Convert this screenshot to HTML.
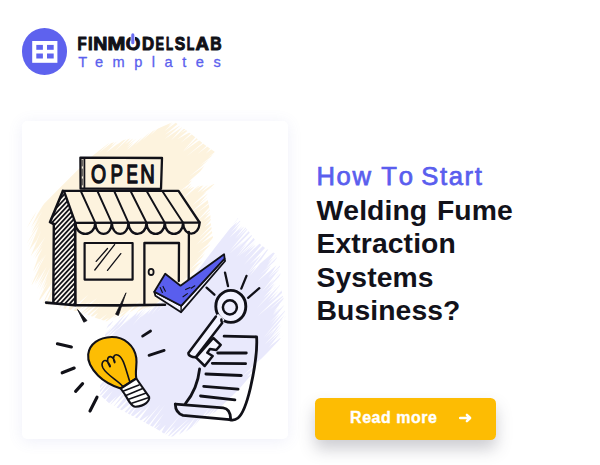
<!DOCTYPE html>
<html lang="en">
<head>
<meta charset="utf-8">
<title>How To Start Welding Fume Extraction Systems Business?</title>
<style>
html,body{margin:0;padding:0;}
body{width:600px;height:465px;background:#fff;position:relative;overflow:hidden;font-family:"Liberation Sans",sans-serif;}
.abs{position:absolute;}
#logo-circle{left:22.1px;top:28.3px;width:45.4px;height:46.4px;border-radius:50%;background:#5e62ee;}
#sub{left:78.2px;top:52.8px;font-size:14.6px;line-height:18px;color:#5b5fee;white-space:nowrap;letter-spacing:9.5px;-webkit-text-stroke:0.3px #5b5fee;}
#card{left:21.9px;top:120.8px;width:266.2px;height:318.5px;background:#fff;border-radius:5px;box-shadow:0 2px 15px rgba(100,105,200,0.11);}
#h1{left:316.5px;top:160.9px;font-size:25.6px;line-height:30px;color:#5a5eee;white-space:nowrap;letter-spacing:1.64px;-webkit-text-stroke:0.75px #5a5eee;font-kerning:none;}
#h2{left:316.5px;top:194.0px;font-size:28.3px;line-height:33.27px;font-weight:bold;color:#12121a;white-space:nowrap;letter-spacing:0.1px;word-spacing:1.7px;font-kerning:none;}
#btn{left:315.1px;top:397.9px;width:181.1px;height:41.9px;border-radius:5.5px;background:#fdbc03;box-shadow:0 9px 16px rgba(60,60,80,0.26);}
#btn span{position:absolute;left:35px;top:9.9px;font-size:16px;line-height:20px;font-weight:bold;color:#fff;white-space:nowrap;letter-spacing:0.5px;-webkit-text-stroke:0.35px #fff;}
</style>
</head>
<body>
<div class="abs" id="logo-circle"></div>
<svg class="abs" style="left:0;top:0" width="600" height="465" viewBox="0 0 600 465">
  <rect x="32.2" y="41" width="25.2" height="21.8" fill="#fff"/>
  <rect x="36.3" y="44.9" width="6.6" height="4.9" fill="#6064ef"/>
  <rect x="47" y="44.9" width="6.7" height="4.9" fill="#6064ef"/>
  <rect x="36.3" y="53.5" width="6.6" height="5" fill="#6064ef"/>
  <rect x="47" y="53.5" width="6.7" height="5" fill="#6064ef"/>
</svg>
<svg class="abs" style="left:0;top:0" width="600" height="465" viewBox="0 0 600 465">
  <text id="brand" aria-label="FINMODELSLAB" y="50.3" font-family="'Liberation Sans',sans-serif" font-weight="bold" font-size="18.2" fill="#111118" stroke="#111118" stroke-width="1.0" stroke-linejoin="round"><tspan x="77.50" textLength="9.15" lengthAdjust="spacingAndGlyphs">F</tspan><tspan x="87.99" textLength="4.63" lengthAdjust="spacingAndGlyphs">I</tspan><tspan x="93.19" textLength="14.13" lengthAdjust="spacingAndGlyphs">N</tspan><tspan x="107.56" textLength="17.87" lengthAdjust="spacingAndGlyphs">M</tspan><tspan x="125.73" textLength="14.55" lengthAdjust="spacingAndGlyphs">O</tspan><tspan x="141.88" textLength="12.13" lengthAdjust="spacingAndGlyphs">D</tspan><tspan x="155.44" textLength="8.56" lengthAdjust="spacingAndGlyphs">E</tspan><tspan x="165.92" textLength="7.14" lengthAdjust="spacingAndGlyphs">L</tspan><tspan x="174.65" textLength="10.46" lengthAdjust="spacingAndGlyphs">S</tspan><tspan x="186.67" textLength="7.62" lengthAdjust="spacingAndGlyphs">L</tspan><tspan x="195.54" textLength="13.46" lengthAdjust="spacingAndGlyphs">A</tspan><tspan x="210.15" textLength="11.37" lengthAdjust="spacingAndGlyphs">B</tspan></text>
  <line x1="132.8" y1="36" x2="132.8" y2="42.8" stroke="#fff" stroke-width="4.4" stroke-linecap="round"/>
  <line x1="132.8" y1="34.9" x2="132.8" y2="42.7" stroke="#6a6ef2" stroke-width="3.1" stroke-linecap="round"/>
</svg>
<div class="abs" id="sub">Templates</div>
<div class="abs" id="card"></div>
<svg class="abs" id="art" style="left:0;top:0" width="600" height="465" viewBox="0 0 600 465">
  <defs>
    <mask id="mcream" maskUnits="userSpaceOnUse" x="0" y="0" width="600" height="465"><rect x="0" y="0" width="600" height="465" fill="#fff"/><path fill="#000" d="M177.2 118.6L178.7 120.5L164.4 131.2ZM180.9 121.2L182.8 123.7L164.9 134.8ZM183.2 122.9L185.0 125.2L164.8 138.9ZM184.9 124.2L186.8 126.1L170.9 140.5ZM188.4 126.9L189.3 128.2L180.5 133.2ZM190.7 128.2L192.5 130.8L177.2 139.3ZM193.7 130.7L194.9 132.1L180.8 142.8ZM198.0 134.2L199.4 135.5L183.1 151.0ZM201.0 136.5L202.3 138.2L183.0 151.7ZM205.5 140.3L206.3 141.2L186.3 156.4ZM209.5 143.2L210.4 144.3L197.2 154.3ZM212.9 145.5L214.3 147.0L205.9 153.6ZM216.7 150.6L217.5 151.7L208.2 157.5ZM213.4 154.7L214.3 156.0L199.7 165.7ZM210.1 158.5L211.4 160.3L201.7 165.9ZM208.2 161.1L209.3 162.6L189.4 176.5ZM200.3 171.5L201.5 173.0L188.8 181.5ZM198.6 173.5L200.1 175.7L188.2 182.4ZM197.2 174.0L199.5 176.3L184.4 189.4ZM197.0 177.8L198.0 179.3L177.6 192.9ZM194.7 179.8L197.1 182.4L186.6 189.7ZM195.5 182.1L197.7 184.8L189.1 189.6ZM198.9 182.2L200.7 184.1L181.6 199.8ZM203.1 182.6L204.1 184.1L195.3 189.4ZM206.5 181.5L208.9 184.0L197.4 192.7ZM208.7 182.4L209.7 183.7L201.1 189.2ZM211.7 181.0L213.9 183.5L200.8 192.6ZM218.1 180.6L219.1 181.8L203.6 194.6ZM220.5 179.7L222.5 182.6L203.1 193.7ZM211.0 187.4L212.9 189.7L192.1 205.5ZM209.3 192.1L211.3 194.2L198.9 203.9ZM209.8 195.6L211.4 197.6L190.9 212.6ZM211.2 200.7L212.1 201.7L195.6 214.0ZM211.6 204.7L213.2 206.2L196.5 221.8ZM212.2 207.8L214.1 210.1L205.0 215.6ZM212.3 210.3L214.2 212.5L203.2 220.2ZM213.1 215.2L214.0 216.1L203.2 224.8ZM212.6 217.9L214.9 220.4L204.7 227.3ZM213.4 222.7L214.6 223.9L198.6 238.5ZM213.9 226.5L215.4 228.1L196.1 245.1ZM214.6 230.8L216.6 233.4L201.1 243.4ZM214.3 236.0L215.9 237.6L206.6 245.5ZM213.5 239.5L214.9 241.4L197.4 252.9ZM212.0 242.9L213.0 243.9L199.9 255.6ZM210.6 244.9L212.4 246.7L195.5 261.5ZM209.4 248.3L211.0 250.0L201.8 257.1ZM208.7 251.0L209.6 252.0L200.8 259.6ZM207.3 252.0L209.6 254.6L190.2 269.5ZM205.8 257.3L206.5 258.3L196.1 265.1ZM203.0 260.3L204.4 261.8L193.3 270.6ZM200.6 264.5L202.0 266.2L183.4 280.5ZM198.8 269.1L199.6 270.3L180.6 282.8ZM196.2 272.0L197.9 273.9L184.9 283.7ZM193.3 276.8L195.2 278.8L181.4 290.0ZM191.8 279.6L193.8 281.7L177.2 295.0ZM190.7 283.3L192.9 285.5L178.4 298.1ZM191.3 287.6L192.3 288.5L180.8 299.1ZM191.6 291.8L192.4 292.8L178.2 304.2ZM191.7 297.1L192.9 298.8L182.2 305.0ZM191.4 302.0L193.1 304.4L177.0 314.1ZM185.0 309.4L184.0 308.4L203.5 289.7ZM181.8 309.8L180.1 307.7L198.4 293.9ZM177.5 309.8L176.1 308.3L187.5 298.7ZM172.6 310.5L170.1 308.0L189.2 291.5ZM167.6 310.1L166.1 308.3L181.4 296.6ZM162.6 309.8L161.4 308.0L177.5 298.3ZM157.4 310.0L156.5 308.9L173.7 295.0ZM153.1 310.2L151.9 308.8L173.1 292.8ZM151.3 310.5L149.9 308.7L170.8 293.1ZM147.5 311.2L146.6 310.0L168.5 294.9ZM142.8 313.3L141.2 311.0L153.0 304.6ZM139.6 314.7L137.8 312.4L147.4 306.7ZM136.8 315.5L135.2 313.6L145.8 306.3ZM135.5 315.4L134.5 314.1L144.3 307.2ZM131.5 317.2L129.7 315.2L149.4 299.5ZM126.1 318.8L124.1 316.1L144.6 302.8ZM122.6 320.3L120.3 317.9L141.2 299.3ZM118.7 320.2L117.8 319.1L129.4 311.3ZM113.9 322.4L112.6 320.7L122.1 314.4ZM109.4 324.3L107.5 321.5L126.6 310.6ZM105.6 325.6L103.7 323.4L118.9 312.5ZM102.2 324.2L100.7 322.2L109.4 317.6ZM98.2 322.8L97.1 321.5L107.1 314.0ZM92.1 321.2L89.6 318.7L98.0 312.8ZM87.7 319.3L86.1 317.5L99.9 306.2ZM84.1 318.1L82.0 315.7L99.9 302.2ZM80.6 316.4L79.5 315.1L92.9 305.1ZM78.2 315.9L76.2 313.5L97.1 297.9ZM75.7 315.1L74.1 313.3L90.2 300.7ZM70.2 314.1L68.2 311.9L88.2 294.8ZM66.9 313.4L63.9 312.1L76.0 289.0ZM61.8 312.3L59.2 311.1L67.5 296.5ZM60.5 312.0L58.1 310.7L66.7 297.5ZM55.3 310.9L53.6 309.9L65.7 291.9ZM51.6 310.5L48.4 308.8L57.5 295.1ZM46.0 309.1L44.9 308.6L57.4 283.9ZM43.2 307.7L41.8 306.8L47.6 298.7ZM40.5 305.5L38.4 304.1L53.6 282.8ZM38.0 303.0L35.5 302.0L47.3 276.7ZM35.7 301.2L32.6 299.6L38.6 291.6ZM34.2 298.1L31.8 296.8L41.8 281.2ZM33.7 295.6L31.3 294.6L39.8 277.5ZM31.5 291.7L29.9 290.8L40.7 274.3ZM29.6 286.9L28.5 286.2L36.0 274.8ZM29.8 284.5L27.0 283.2L39.4 260.2ZM29.3 281.7L27.2 280.8L38.3 257.0ZM29.5 277.7L26.3 276.4L35.1 259.6ZM28.2 272.5L25.9 271.3L38.7 250.3ZM27.5 269.4L26.3 268.8L32.6 257.5ZM27.1 265.1L25.2 263.9L37.8 246.2ZM27.6 260.9L24.4 259.2L35.2 243.3ZM27.4 255.1L24.4 253.6L30.6 244.2ZM26.8 249.7L24.2 248.4L31.8 236.4ZM26.0 245.0L24.5 244.2L35.8 223.8ZM26.1 241.5L24.8 241.0L29.2 232.3ZM26.2 238.2L24.0 237.0L30.4 228.0ZM26.0 235.4L23.7 234.0L35.4 218.4ZM42.0 203.0L43.7 204.0L29.2 227.7ZM112.5 140.0L113.5 141.3L98.0 153.4ZM117.0 138.4L118.7 140.1L111.1 145.9ZM121.3 137.3L123.3 139.6L106.1 152.4ZM124.5 137.3L125.4 138.4L116.9 144.7ZM129.1 135.9L130.2 137.0L114.8 151.3ZM133.8 134.3L135.8 136.6L125.0 144.3ZM137.8 133.1L140.2 135.7L127.7 145.0ZM142.9 132.4L144.8 134.6L126.4 148.1ZM143.7 131.7L145.9 133.9L126.7 150.3ZM148.9 129.7L150.6 131.5L134.7 145.5ZM153.8 128.1L154.9 129.2L142.1 140.4ZM158.3 125.9L159.5 127.1L150.4 135.2ZM174.9 118.4L176.5 120.1L168.3 126.3ZM61.4 312.1L59.3 311.0L77.2 281.3ZM60.3 311.8L58.7 310.8L79.0 281.0ZM57.2 311.4L55.0 310.1L73.8 280.2ZM53.7 310.7L51.5 309.5L66.5 285.5ZM51.2 310.2L49.4 309.2L59.4 293.5ZM49.0 309.9L46.3 308.4L60.0 286.3ZM44.1 308.1L41.5 306.8L55.3 281.6ZM41.5 306.2L39.7 305.3L53.5 280.3ZM39.7 304.9L37.4 303.4L54.7 279.3ZM37.2 302.8L34.9 301.4L47.9 281.8ZM36.1 301.6L33.3 300.3L50.4 267.3ZM34.8 299.5L32.7 298.5L43.2 279.0ZM33.0 295.8L31.2 294.7L47.0 270.5ZM32.9 294.2L30.2 292.7L46.8 266.4ZM31.6 290.5L29.3 289.3L39.5 271.9ZM30.3 287.4L28.6 286.6L44.8 254.8ZM29.1 284.8L27.5 283.9L46.7 253.5ZM29.0 282.6L26.5 281.1L43.0 256.8ZM28.9 278.9L26.7 277.8L39.1 254.4ZM28.5 275.2L25.8 273.6L42.4 248.4ZM27.8 272.6L25.7 271.2L42.9 247.5ZM27.8 270.3L25.5 268.9L42.9 243.3ZM27.5 267.0L24.9 265.3L45.3 237.1ZM27.4 264.2L25.7 263.4L41.3 230.4ZM26.8 260.3L25.2 259.4L36.4 240.6ZM26.8 258.3L24.5 256.8L36.4 240.5ZM27.4 254.9L24.6 253.7L39.2 224.9ZM26.3 250.7L24.8 250.0L34.5 232.4ZM26.3 248.7L24.0 247.4L39.4 224.9ZM25.8 245.1L24.0 243.9L40.6 220.3ZM26.4 243.1L23.7 241.5L38.8 218.0ZM25.7 238.8L24.0 237.7L42.5 211.1ZM26.5 236.9L23.8 235.5L40.6 207.4ZM26.2 234.1L23.7 232.6L41.2 205.8ZM34.8 210.2L36.6 211.3L26.0 228.0ZM39.8 205.1L41.8 206.2L29.4 225.7Z"/></mask>
    <mask id="mlav" maskUnits="userSpaceOnUse" x="0" y="0" width="600" height="465"><rect x="0" y="0" width="600" height="465" fill="#fff"/><path fill="#000" d="M240.8 215.8L243.0 217.5L234.7 226.0ZM243.8 219.1L245.6 220.7L235.1 230.4ZM245.7 221.5L247.9 223.6L238.6 231.1ZM248.8 225.1L249.8 226.0L237.1 238.7ZM249.7 226.5L251.3 227.9L229.9 250.8ZM253.0 230.8L254.4 232.2L236.5 249.0ZM254.4 232.9L256.2 234.5L239.5 250.4ZM257.7 236.9L258.9 238.2L237.9 256.7ZM259.7 238.4L261.5 240.4L248.7 250.2ZM263.9 241.9L265.3 243.3L253.1 254.2ZM268.0 244.8L270.1 247.0L249.5 264.8ZM272.9 247.5L274.8 249.5L252.0 269.4ZM278.0 250.8L279.1 251.6L266.9 266.5ZM278.9 255.3L281.7 257.7L262.2 277.5ZM280.0 259.4L282.9 261.6L270.8 274.5ZM282.5 264.0L283.7 265.2L268.3 278.5ZM283.2 269.0L284.3 270.2L268.1 284.5ZM281.7 272.5L284.5 274.8L270.9 288.6ZM281.9 276.7L284.4 279.2L263.4 297.7ZM282.2 282.4L283.6 283.6L267.2 301.2ZM283.0 285.6L284.9 287.5L268.5 302.5ZM284.6 290.9L286.4 292.9L272.7 303.6ZM285.9 296.1L287.8 298.0L278.4 305.2ZM285.6 296.6L287.9 298.7L273.4 312.3ZM285.9 299.0L288.3 301.4L277.9 309.6ZM286.3 302.5L288.1 304.0L274.2 318.3ZM286.4 305.2L288.4 306.9L271.1 325.1ZM287.4 310.1L288.5 311.0L267.8 332.4ZM287.1 315.0L289.4 316.8L271.3 337.1ZM287.4 318.6L290.0 321.2L276.9 331.6ZM287.3 322.7L289.0 324.4L268.6 343.5ZM286.9 327.3L288.1 328.6L278.9 336.3ZM285.7 330.3L287.6 331.8L278.9 340.7ZM260.1 359.4L261.2 360.6L242.5 376.3ZM255.6 367.0L257.7 369.3L246.8 376.7ZM209.0 418.6L207.3 417.1L217.5 406.6ZM203.3 422.1L201.8 421.0L214.6 406.7ZM200.7 424.5L198.2 422.3L208.5 413.0ZM196.8 426.8L194.9 425.3L210.2 407.2ZM191.3 429.9L190.2 429.1L202.5 414.0ZM181.9 437.5L179.5 435.7L196.2 416.3ZM178.0 438.7L176.2 436.7L185.4 429.9ZM174.4 440.7L172.6 439.0L181.2 431.4ZM172.5 440.6L170.6 438.6L190.4 421.0ZM167.8 439.7L166.5 438.3L190.1 417.4ZM165.6 439.6L162.9 437.1L175.4 426.1ZM162.8 437.6L161.6 436.6L181.2 414.1ZM159.6 435.7L156.7 433.5L165.7 424.7ZM153.1 431.6L152.1 430.5L161.3 423.1ZM151.7 430.9L150.2 429.7L163.9 413.5ZM147.7 428.7L146.3 427.7L164.7 404.9ZM143.0 426.2L141.7 425.2L160.5 404.3ZM140.3 425.2L137.9 422.4L148.9 415.0ZM136.9 423.2L134.4 421.1L150.1 404.8ZM132.0 420.5L130.2 418.5L144.2 407.5ZM128.3 418.4L127.2 417.5L145.6 395.3ZM125.1 416.7L123.8 415.5L143.0 394.7ZM121.6 415.2L119.0 412.4L137.1 398.3ZM117.3 412.6L115.4 410.9L135.6 391.7ZM113.9 410.9L111.4 408.7L131.0 389.2ZM111.0 409.4L108.2 407.0L126.8 388.9ZM108.0 407.6L106.1 405.9L116.9 396.1ZM103.6 403.6L102.0 402.2L112.7 391.0ZM99.1 399.6L97.8 398.3L113.6 382.9ZM98.2 397.2L96.9 396.2L113.4 375.8ZM97.9 392.5L96.9 391.6L110.5 377.2ZM98.3 387.2L96.0 384.9L111.6 372.0ZM98.0 383.4L96.4 381.9L116.2 362.9ZM97.9 379.0L95.4 376.6L106.3 368.0ZM96.8 373.0L94.8 370.7L116.2 353.9ZM97.3 370.6L94.5 368.2L111.3 351.2ZM96.9 364.4L94.9 362.8L106.1 350.5ZM98.0 360.3L95.8 358.6L111.3 340.7ZM98.7 354.2L97.1 352.7L114.1 336.8ZM99.3 350.4L97.9 349.0L111.3 337.9ZM100.6 347.7L98.5 345.6L118.7 327.4ZM101.7 342.1L100.5 340.8L117.9 325.1ZM103.5 336.3L102.4 335.3L113.6 324.7ZM104.5 334.1L102.4 332.0L126.0 311.2ZM106.1 328.6L103.6 326.7L120.7 306.9ZM111.0 316.8L112.0 317.7L92.1 338.4ZM114.8 315.7L115.7 316.7L106.3 325.0ZM117.4 314.6L118.8 316.1L96.7 334.9ZM119.3 313.1L121.7 315.1L105.7 331.2ZM123.1 311.7L125.5 313.8L105.8 334.7ZM128.4 309.9L130.9 312.0L116.1 327.1ZM133.1 308.5L135.4 310.3L120.5 326.4ZM135.8 307.7L138.3 310.0L116.4 330.7ZM140.5 307.2L141.7 308.5L123.4 324.8ZM141.7 305.6L144.7 307.9L135.5 316.5ZM146.7 304.7L148.6 306.4L137.6 317.5ZM150.2 304.2L151.3 305.2L132.5 325.2ZM152.6 302.7L155.3 305.3L140.7 317.5ZM155.8 301.8L158.0 303.6L147.3 314.5ZM164.2 297.0L165.6 298.0L151.4 314.7ZM171.6 292.2L173.2 293.5L160.1 307.4ZM175.3 290.0L176.7 291.3L156.8 312.4ZM240.8 215.4L242.5 217.1L225.9 232.1ZM243.0 218.0L244.6 219.6L231.1 231.9ZM244.8 220.3L246.7 222.1L229.4 237.7ZM246.9 223.0L248.6 224.5L235.0 238.8ZM250.1 227.0L251.6 228.3L230.1 250.5ZM252.4 230.0L254.1 231.8L229.2 253.9ZM254.7 233.4L256.4 234.8L236.2 257.3ZM258.9 237.9L260.0 239.1L241.6 254.7ZM260.8 239.4L262.4 241.0L244.1 257.7ZM264.0 242.0L265.5 243.4L243.8 264.9ZM268.2 245.1L269.7 246.2L246.3 275.2ZM270.5 246.2L273.0 248.2L249.7 276.1ZM273.7 247.9L275.8 250.2L247.5 274.2ZM277.2 249.9L279.2 251.6L267.8 263.1ZM278.6 252.5L280.3 254.1L265.9 267.9ZM280.1 255.9L281.2 257.2L260.4 274.4ZM280.3 258.0L282.4 260.3L257.1 281.8ZM281.2 261.0L282.8 262.4L267.9 277.7ZM282.3 265.3L284.3 267.0L261.9 291.8ZM282.7 268.0L284.2 269.3L268.7 286.4ZM282.7 272.8L284.2 274.4L265.2 291.5ZM282.1 276.5L283.5 277.5L267.6 296.3ZM282.1 279.9L283.6 281.3L256.8 308.2ZM282.2 283.2L284.5 285.4L268.7 299.6ZM283.4 286.5L284.5 287.5L271.0 301.8ZM284.6 290.5L286.2 292.2L257.5 316.2ZM285.7 293.9L286.8 295.1L269.2 310.0ZM285.5 297.4L288.0 299.5L272.8 314.8ZM286.5 300.5L287.8 301.8L272.4 316.1ZM286.9 304.6L288.3 306.0L269.9 322.4ZM287.1 308.7L288.3 309.7L263.5 337.9ZM287.1 311.6L288.5 312.7L268.0 338.2ZM287.8 314.6L289.3 316.1L265.2 338.1ZM287.6 320.0L289.6 322.0L264.4 344.7ZM286.8 324.5L288.4 325.9L268.0 348.5ZM286.2 329.1L288.3 331.5L269.8 346.2Z"/></mask>
    <clipPath id="wallclip"><path d="M62.9 191.5 L50 222 L53.8 224 L53.3 302.7 L74.8 305 L75.4 223 L65 193 Z"/></clipPath>
    <clipPath id="cardclip"><rect x="21.9" y="120.8" width="266.2" height="318.5" rx="5"/></clipPath>
  </defs>
  <g clip-path="url(#cardclip)">
  <!-- cream brush -->
  <path id="cream" fill="#fdf3de" mask="url(#mcream)" d="M174 121.5 L190 133 L205 145 L215 152 L205 165 L196 177 L192 186 L206 185.5 L219 183.3 L209 191 L207 197 L210 210 L211 225 L213 238 L206 255 L197 270 L189 285 L189 306 L154 307 L139 312 L125 316 L108 322 L96 318 L80 312 L62 308 L46 305 L36 297 L30 280 L28 258 L27 240 L27 228 L33 215 L56.7 191 L89.7 158 L108 143.7 L141 136 Z"/>
  <!-- lavender brush -->
  <path id="lav" fill="#e9e9fc" mask="url(#mlav)" d="M238 218 L247 229 L255 240 L265 248 L276 254 L281 270 L280 285 L284 300 L286 322 L284 335 L268 352 L258 362 L252 374 L240 388 L228 400 L215 412 L195 425 L184 433 L176 437 L168 436 L155 428 L140 420 L125 412 L110 404 L100 395 L100 380 L98 362 L102 345 L106 332 L108 320.5 L130 313 L154 306 L176 292 L189 282 L198 270 L207 258 L217 245 L228 231 Z"/>
  </g>

  <g id="shop" fill="none" stroke="#111118" stroke-width="2" stroke-linecap="round" stroke-linejoin="round">
    <!-- side wall hatch -->
        <g clip-path="url(#wallclip)"><path d="M48 190H78V308H48Z" fill="#fffaf0" stroke="none"/><path d="M47.0 203.0L78.0 169.7M47.0 208.0L78.0 174.7M47.0 213.0L78.0 179.7M47.0 218.0L78.0 184.7M47.0 223.0L78.0 189.7M47.0 228.0L78.0 194.7M47.0 233.0L78.0 199.7M47.0 238.0L78.0 204.7M47.0 243.0L78.0 209.7M47.0 248.0L78.0 214.7M47.0 253.0L78.0 219.7M47.0 258.0L78.0 224.7M47.0 263.0L78.0 229.7M47.0 268.0L78.0 234.7M47.0 273.0L78.0 239.7M47.0 278.0L78.0 244.7M47.0 283.0L78.0 249.7M47.0 288.0L78.0 254.7M47.0 293.0L78.0 259.7M47.0 298.0L78.0 264.7M47.0 303.0L78.0 269.7M47.0 308.0L78.0 274.7M47.0 313.0L78.0 279.7M47.0 318.0L78.0 284.7M47.0 323.0L78.0 289.7M47.0 328.0L78.0 294.7M47.0 333.0L78.0 299.7M47.0 338.0L78.0 304.7M47.0 343.0L78.0 309.7M47.0 348.0L78.0 314.7M47.0 353.0L78.0 319.7" stroke-width="1.75" stroke-linecap="butt"/></g>
    <!-- front wall fill -->
    <!-- awning fill (cream already) -->
    <!-- sign -->
    <path d="M80.4 157.6 L162 158 L161 188.8 L84.3 188.6 L80.6 188.7 Z" fill="#fdf3de" stroke-width="2.3"/>
    <path d="M84.4 158 L84.4 188.4" stroke-width="1.8"/>
    <path d="M82.2 160 V166 M82.2 169 V176 M82.2 179 V185" stroke-width="0.9"/>
    <!-- awning outline -->
    <path d="M62.9 190.9 L178.5 190.9 L199.6 222.5 L75.4 222.8" stroke-width="2.3"/>
    <path d="M62.9 190.9 L50 222.2 L53.8 224" stroke-width="2.6"/>
    <path d="M64.3 192 L75.4 222.8" stroke-width="2.3"/>
    <!-- stripes -->
    <path d="M81 191.5 L95.3 222.8 M97.6 191.5 L111.8 222.8 M114.4 191.5 L128.5 222.8 M130.8 191.5 L146.5 222.8 M146.9 191.5 L164.8 222.8 M162.6 191.5 L183.1 222.8" stroke-width="1.9"/>
    <!-- scallops -->
    <path d="M75.4 222.8 C75.8 237.6 94.8 237.6 95.3 222.8 C95.7 237.6 111.4 237.6 111.8 222.8 C112.2 237.6 128.1 237.6 128.5 222.8 C128.9 237.6 146.1 237.6 146.5 222.8 C146.9 237.6 164.4 237.6 164.8 222.8 C165.2 237.6 182.7 237.6 183.1 222.8 C183.5 237.2 199.2 237.2 199.6 222.5" stroke-width="2.3"/>
    <!-- walls -->
    <path d="M53.8 224 L53.3 302.7" stroke-width="2.4"/>
    <path d="M75.2 223 L75.4 305" stroke-width="2.6"/>
    <path d="M188.9 232 L188.7 280" stroke-width="2.3"/>
    <!-- ground -->
    <path d="M46.1 302.6 L74.8 305.2 L120 305.4 L165 304.8" stroke-width="2.6"/>
    <!-- window -->
    <rect x="84.6" y="243" width="48" height="36.6" stroke-width="2.2"/>
    <path d="M107.5 248.5 L96.2 261.4 M114.6 244.6 L94.8 270 M120.8 253.6 L107.5 270.4" stroke-width="1.3"/>
    <!-- door -->
    <path d="M144.4 304.5 L144.4 243 L179 243 L178.8 281" stroke-width="2.3"/>
    <ellipse cx="151.1" cy="271.9" rx="2.5" ry="3.1" stroke-width="1.8"/>
  </g>
  <!-- OPEN -->
  <text aria-label="OPEN" y="183.05" font-family="'Liberation Sans',sans-serif" font-size="26.6" fill="#111118" stroke="#111118" stroke-width="1.45" stroke-linejoin="round"><tspan x="91.11" textLength="15.10" lengthAdjust="spacingAndGlyphs">O</tspan><tspan x="110.49" textLength="12.47" lengthAdjust="spacingAndGlyphs">P</tspan><tspan x="126.62" textLength="11.38" lengthAdjust="spacingAndGlyphs">E</tspan><tspan x="140.37" textLength="14.54" lengthAdjust="spacingAndGlyphs">N</tspan></text>

  <!-- check mark -->
  <g stroke="#111118" stroke-width="1.8" stroke-linejoin="round" stroke-linecap="round">
    <path d="M154.3 291.8 L155.4 295.8 L181.1 312.2 L225.1 261 L224.5 258.5 L181.1 305.8 Z" fill="#f3f3ff"/>
    <path d="M154.3 291.8 L165.2 273.7 L180.5 285.7 L224.1 254.2 L224.6 258.6 L181.1 305.8 Z" fill="#595eee"/>
    <path d="M181.1 305.8 L181.1 312.2" fill="none" stroke-width="1.4"/>
    <path d="M160.2 287.6 L162.4 292.4 M163 286.4 L165.4 291.2 M185.6 289.6 L190 287.6 M191.2 288.2 L194.8 285.8 M183 296.8 L187.4 293.6" fill="none" stroke-width="1.1"/>
  </g>

  <!-- document -->
  <g fill="none" stroke="#111118" stroke-width="2.8" stroke-linecap="round" stroke-linejoin="round">
    <path d="M224.1 336.2 L256.6 336.8 C257.6 352 254 372 250.4 388 C246.6 404 243 414 238 418 C235.4 420 232 420.4 229.6 419.6"/>
    <path d="M199.6 369 C198.4 380 195 392 185.4 403.6"/>
    <path d="M175.3 404.1 L223.1 407.8 C228 408.4 230.4 413 230.6 418.6"/>
    <path d="M175.3 404.1 C175.4 410 178.4 414 183 415.4 L229.6 419.6"/>
    <path d="M217.7 353 L246.3 353 M212.3 363.3 L245.6 363.7 M205.9 374 L241.3 375.5 M203.7 386.3 L238.1 389.1 M200.5 396 L234.9 399.8" stroke-width="2.8"/>
  </g>

  <!-- key -->
  <g stroke="#111118" stroke-width="2.7" stroke-linecap="round" stroke-linejoin="round">
    <path d="M213.3 338 L220.7 344.9 L216.3 350 L210 348.9 L207.3 352.7 L212.7 356 L204.7 366 L196 357.3 Z" fill="#f6f6ff" stroke-width="2.5"/>
    <ellipse cx="230.8" cy="306.4" rx="15" ry="16" fill="#f3f3ff" stroke-width="2.9"/>
    <ellipse cx="229.9" cy="307.3" rx="7" ry="7.1" fill="#eeeefe" stroke-width="2.5"/>
    <path d="M218 313.8 L188.4 353 C188.2 355.6 192 357.4 195.7 357.3 L224.6 319.8 Z" fill="#f3f3ff" stroke="none"/>
    <path d="M215.9 316.6 L188.4 353 C188.2 355.6 192 357.4 195.7 357.3 L222.2 323 C221.4 321.6 221.2 320.6 221.4 319.6" fill="none" stroke-width="2.5"/>
  </g>
  <!-- key rays -->
  <g fill="none" stroke="#111118" stroke-width="2.3" stroke-linecap="round">
    <path d="M225 272.6 L228 286.1 M246.5 275.9 L241.3 288.6 M259.3 288.2 L248.1 297.8 M206.6 287.6 L214.4 294.7"/>
  </g>

  <!-- bulb -->
  <g stroke="#111118" stroke-width="2.1" stroke-linecap="round" stroke-linejoin="round">
    <path d="M120.7 388.5 C112 385.6 104 381.4 98 375.4 C91 368.4 87.4 362 88.2 354.4 C89.4 344 99 337.4 111.6 337 C124 336.8 134.6 345.4 136.3 358 C137.2 364.6 135 371 136.3 378.5 Z" fill="#fdbd03"/>
    <path d="M120.7 388.5 L136.3 378.5 L149.1 396.8 C150 401 145 406 135.4 406.8 C132 407 128.6 401 125.3 395 Z" fill="#fff"/>
    <path d="M122.9 391.3 L139 384.9 M125.3 395.8 L142.7 388.5 M128 399.5 L146.3 393.1 M131.7 403.2 L148.2 397.7" fill="none" stroke-width="1.6"/>
    <path d="M123 386.6 C118 380.6 106.6 375 103 368 C100.4 362.6 104 358.6 107.4 361.6 C110 364 110.8 367.4 109.8 366.6 C106.4 362 107 356.4 110.6 356.6 C113.6 357 115.4 362 114.6 362.6 C112 357 114.4 353.6 118.2 355.2 C123.4 357.6 125.4 368 129.8 381.8" fill="none" stroke-width="1.6"/>
  </g>

  <!-- rays -->
  <g fill="#111118" stroke="#111118" stroke-width="0.8" stroke-linejoin="round">
    <path d="M77.6 309.6 L83.8 322.2 L87 320.6 Z"/>
    <path d="M126 292.8 L115.6 314.2 L118.4 315.4 Z"/>
  </g>
  <g fill="none" stroke="#111118" stroke-width="3.1" stroke-linecap="round">
    <path d="M57.4 343.8 L71.4 347 M62.2 372.8 L74.2 368 M75.6 391.4 L82.6 383.6 M90 411 L97 397.2"/>
    <path d="M142.6 336.2 L150.6 331 M149 355.4 L164.2 350.4" stroke-width="2.7"/>
  </g>
</svg>
<div class="abs" id="h1">How To <span style="margin-left:-2.1px">Start</span></div>
<div class="abs" id="h2">Welding Fume<br>Extraction<br>Systems<br>Business?</div>
<div class="abs" id="btn"><span>Read more</span>
<svg class="abs" style="left:143px;top:13.4px" width="16" height="14" viewBox="0 0 16 14"><path d="M2.2 7 H11.8 M8.9 3.8 L12.1 7 L8.9 10.2" fill="none" stroke="#fff" stroke-width="2.5" stroke-linecap="round" stroke-linejoin="round"/></svg>
</div>
</body>
</html>
